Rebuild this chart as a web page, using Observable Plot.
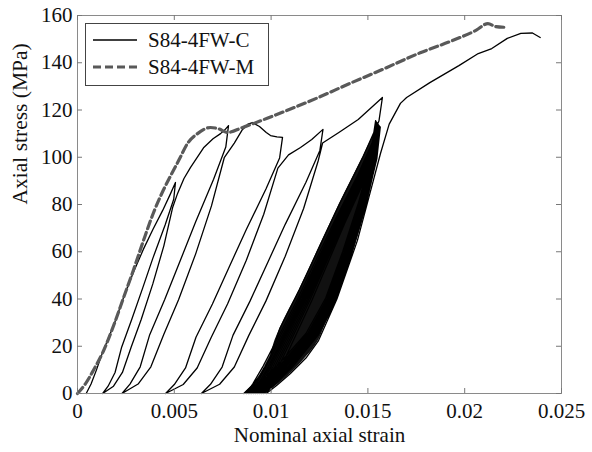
<!DOCTYPE html>
<html>
<head>
<meta charset="utf-8">
<script src="https://cdn.jsdelivr.net/npm/d3@7"></script>
<script src="https://cdn.jsdelivr.net/npm/@observablehq/plot@0.6"></script>
<style>
  html, body { margin: 0; padding: 0; background: #fff; }
  #chart svg { display: block; }
</style>
</head>
<body>
<div id="chart"></div>
<script>
// ---------- axis ticks ----------
const strainTicks = [0, 0.005, 0.01, 0.015, 0.02, 0.025];
const strainTickLabels = ["0", "0.005", "0.01", "0.015", "0.02", "0.025"];
const stressTicks = [0, 20, 40, 60, 80, 100, 120, 140, 160];

// ---------- series names ----------
const seriesNames = ["S84-4FW-C", "S84-4FW-M"];

// ---------- S84-4FW-M (monotonic) : [strain, stress MPa] ----------
const mCurve = [[0,0],[0.0004,4],[0.0008,9.5],[0.00134,18],[0.0019,29.5],[0.00238,40.6],[0.0029,52.5],[0.00341,64.8],[0.0039,76],[0.0044,85.5],[0.0048,92],[0.00525,99],[0.00568,105.8],[0.0062,110],[0.00687,112.6],[0.0073,112],[0.00775,110.5],[0.0085,112.5],[0.0098,116.5],[0.011,120.4],[0.0125,125.5],[0.014,131],[0.01565,136.8],[0.0177,144.2],[0.0194,149.5],[0.0206,153.8],[0.0212,156.6],[0.0216,155.3],[0.0221,155]];

// ---------- S84-4FW-C (cyclic) : [strain, stress MPa], in loading order ----------
const cLoad1 = [[0.00045,0],[0.0007,4],[0.00098,10],[0.0013,17.5],[0.0019,29.5],[0.00238,40.6],[0.0029,51.5],[0.0034,61],[0.0039,69.5],[0.0044,77.5],[0.0048,84.5],[0.00506,89.3]];
const cUnload1 = [[0.00497,82.2],[0.00453,71.4],[0.00389,57.2],[0.00337,44.7],[0.0028,31.3],[0.00228,19.6],[0.00194,8.9],[0.00158,3.1],[0.0013,0]];
const cLoad2 = [[0.00186,3.1],[0.00232,8.9],[0.00277,19.6],[0.00329,31.3],[0.00389,46.4],[0.00446,62.5],[0.00491,78.6],[0.00517,84.7],[0.0055,91],[0.00584,95.7],[0.00651,104],[0.007,107.8],[0.00739,110],[0.0076,111.5],[0.0078,113.4]];
const cUnload2 = [[0.00766,104.3],[0.00703,90.7],[0.0061,72.6],[0.00533,56.7],[0.0045,39.7],[0.00373,24.9],[0.00324,11.3],[0.00271,4],[0.0023,0]];
const cLoad3 = [[0.00313,4],[0.00379,11.3],[0.00445,24.9],[0.00522,39.7],[0.0061,59],[0.00692,79.4],[0.00758,99.8],[0.0081,106],[0.0085,111.5],[0.0088,114],[0.00904,114.7],[0.0094,113],[0.00975,110.5],[0.00997,109.2],[0.0103,108.6],[0.01059,108.4]];
const cUnload3 = [[0.01044,99.7],[0.00974,86.7],[0.00872,69.4],[0.00787,54.2],[0.00697,37.9],[0.00612,23.8],[0.00558,10.8],[0.005,3.8],[0.00455,0]];
const cLoad4 = [[0.00546,3.8],[0.00618,10.8],[0.00691,23.8],[0.00775,37.9],[0.00872,56.4],[0.00962,75.9],[0.01035,95.4],[0.0109,101],[0.01152,104.1],[0.0121,107.5],[0.01268,111.8]];
const cUnload4 = [[0.01252,102.9],[0.0118,89.4],[0.01073,71.6],[0.00985,55.9],[0.00891,39.1],[0.00803,24.6],[0.00747,11.2],[0.00687,3.9],[0.0064,0]];
const cLoad5 = [[0.00734,3.9],[0.0081,11.2],[0.00885,24.6],[0.00973,39.1],[0.01073,58.1],[0.01168,78.3],[0.01243,98.4],[0.01266,106],[0.0135,110.5],[0.0145,116],[0.01575,125.3]];
const cUnload5 = [[0.01557,115.3],[0.01475,100.2],[0.01353,80.2],[0.01253,62.7],[0.01146,43.9],[0.01046,27.6],[0.00982,12.5],[0.00914,4.4],[0.0086,0]];
// repeated small cycles (reload, unload pairs)
const cDense = [
  [[0.00928,4],[0.0103,11.6],[0.0118,25.4],[0.01282,40.4],[0.0137,60.1],[0.01452,80.9],[0.0152,101.6],[0.0154,115.5]],
  [[0.01523,106.3],[0.01447,92.4],[0.01333,73.9],[0.01239,57.8],[0.01139,40.4],[0.01046,25.4],[0.00959,11.6],[0.00905,4],[0.00872,0]],
  [[0.00939,4],[0.0104,11.5],[0.01188,25.3],[0.01289,40.3],[0.01376,59.8],[0.01457,80.5],[0.01524,101.2],[0.01544,115]],
  [[0.01528,105.8],[0.01451,92],[0.01339,73.6],[0.01246,57.5],[0.01147,40.3],[0.01054,25.3],[0.00968,11.5],[0.00915,4],[0.00882,0]],
  [[0.00949,4],[0.01048,11.5],[0.01195,25.2],[0.01294,40.1],[0.01381,59.6],[0.01461,80.2],[0.01527,100.8],[0.01547,114.6]],
  [[0.01531,105.4],[0.01455,91.7],[0.01344,73.3],[0.01252,57.3],[0.01153,40.1],[0.01062,25.2],[0.00976,11.5],[0.00924,4],[0.00891,0]],
  [[0.00957,4],[0.01056,11.4],[0.01201,25.1],[0.013,40],[0.01385,59.4],[0.01464,80],[0.0153,100.6],[0.0155,114.3]],
  [[0.01534,105.2],[0.01459,91.4],[0.01349,73.2],[0.01258,57.2],[0.0116,40],[0.01069,25.1],[0.00985,11.4],[0.00933,4],[0.009,0]],
  [[0.00965,4],[0.01063,11.4],[0.01206,25.1],[0.01304,39.9],[0.01389,59.3],[0.01467,79.8],[0.01532,100.3],[0.01552,114]],
  [[0.01536,104.9],[0.01462,91.2],[0.01353,73],[0.01263,57],[0.01166,39.9],[0.01076,25.1],[0.00993,11.4],[0.00941,4],[0.00909,0]],
  [[0.00974,4],[0.0107,11.4],[0.01212,25],[0.01309,39.8],[0.01393,59.2],[0.0147,79.7],[0.01535,100.1],[0.01554,113.8]],
  [[0.01538,104.7],[0.01465,91],[0.01357,72.8],[0.01268,56.9],[0.01172,39.8],[0.01083,25],[0.01001,11.4],[0.0095,4],[0.00918,0]],
  [[0.00982,4],[0.01078,11.4],[0.01218,25],[0.01314,39.8],[0.01397,59.1],[0.01473,79.5],[0.01537,100],[0.01556,113.6]],
  [[0.0154,104.5],[0.01468,90.9],[0.01361,72.7],[0.01273,56.8],[0.01179,39.8],[0.01091,25],[0.0101,11.4],[0.00959,4],[0.00928,0]],
  [[0.00991,4],[0.01086,11.3],[0.01224,24.9],[0.01319,39.7],[0.01401,59],[0.01476,79.4],[0.01539,99.8],[0.01558,113.4]],
  [[0.01543,104.3],[0.01471,90.7],[0.01366,72.6],[0.01279,56.7],[0.01186,39.7],[0.01099,24.9],[0.01019,11.3],[0.00969,4],[0.00938,0]],
  [[0.01,4],[0.01094,11.3],[0.0123,24.9],[0.01324,39.6],[0.01405,58.9],[0.01479,79.2],[0.01541,99.6],[0.0156,113.2]],
  [[0.01545,104.1],[0.01475,90.6],[0.01371,72.4],[0.01285,56.6],[0.01193,39.6],[0.01108,24.9],[0.01028,11.3],[0.0098,4],[0.00949,0]],
  [[0.0101,4],[0.01102,11.3],[0.01237,24.9],[0.01329,39.6],[0.01409,58.8],[0.01482,79.1],[0.01544,99.4],[0.01562,113]],
  [[0.01547,104],[0.01478,90.4],[0.01375,72.3],[0.01291,56.5],[0.01201,39.6],[0.01117,24.9],[0.01038,11.3],[0.0099,4],[0.0096,0]],
  [[0.0102,3.9],[0.01111,11.3],[0.01244,24.8],[0.01335,39.5],[0.01413,58.7],[0.01486,79],[0.01546,99.3],[0.01564,112.8]],
  [[0.01549,103.8],[0.01482,90.2],[0.01381,72.2],[0.01299,56.4],[0.01211,39.5],[0.01128,24.8],[0.01052,11.3],[0.01005,3.9],[0.00975,0]]
];
const cFinal = [[0.0103,3.5],[0.011,8.5],[0.0118,15],[0.01245,22.4],[0.0134,40],[0.01446,64.8],[0.01505,83],[0.01565,101.6],[0.0161,114],[0.01668,122.8],[0.017,125.3],[0.0182,131.6],[0.0197,138.8],[0.0207,143.9],[0.0214,146],[0.0222,150.3],[0.0229,152.4],[0.0235,152.6],[0.0239,150.7]];
// envelope of the densely overlapping cycles: [stress, left strain, right strain]
const cDenseBand = [[0,0.0086,0.00975],[4.4,0.00914,0.01045],[12.5,0.00982,0.01149],[22.4,0.0102,0.01245],[27.6,0.01046,0.01273],[43.9,0.01146,0.01357],[62.7,0.01253,0.01437],[80.2,0.01353,0.01496],[100.2,0.01475,0.01545],[113,0.0155,0.0156]];

// ---------- build tables ----------
const cPath = [].concat(cLoad1, cUnload1, cLoad2, cUnload2, cLoad3, cUnload3, cLoad4, cUnload4, cLoad5, cUnload5, ...cDense, cFinal)
  .map(([strain, stress]) => ({strain, stress}));
const mPath = mCurve.map(([strain, stress]) => ({strain, stress}));
const band = cDenseBand.map(([stress, lo, hi]) => ({stress, lo, hi}));

const W = 592, H = 452;
const mL = 77, mR = 31, mT = 15, mB = 59;
const innerW = W - mL - mR, innerH = H - mT - mB;
const tickLen = 5;
const serif = "'Liberation Serif', 'Times New Roman', serif";

const chart = Plot.plot({
  width: W,
  height: H,
  marginLeft: mL,
  marginRight: mR,
  marginTop: mT,
  marginBottom: mB,
  style: {fontFamily: serif, fontSize: "21px", color: "#111", background: "#fff"},
  x: {domain: [0, 0.025]},
  y: {domain: [0, 160]},
  marks: [
    Plot.areaX(band, {y: "stress", x1: "lo", x2: "hi", fill: "#111", curve: "monotone-y"}),
    Plot.line(cPath, {x: "strain", y: "stress", stroke: "#000", strokeWidth: 1.3, strokeLinejoin: "round"}),
    Plot.line(mPath, {x: "strain", y: "stress", stroke: "#595959", strokeWidth: 3.2, strokeDasharray: "8,4", curve: "monotone-x"}),
    Plot.frame({stroke: "#8a8a8a", strokeWidth: 1}),
    // inward ticks (MATLAB style)
    Plot.ruleX(strainTicks, {x: d => d, insetTop: innerH - tickLen, stroke: "#777"}),
    Plot.ruleX(strainTicks, {x: d => d, insetBottom: innerH - tickLen, stroke: "#777"}),
    Plot.ruleY(stressTicks, {y: d => d, insetRight: innerW - tickLen, stroke: "#777"}),
    Plot.ruleY(stressTicks, {y: d => d, insetLeft: innerW - tickLen, stroke: "#777"}),
    Plot.axisX({ticks: strainTicks, tickFormat: d => strainTickLabels[strainTicks.indexOf(d)], tickSize: 0, tickPadding: 10, label: null, fontSize: 21}),
    Plot.axisY({ticks: stressTicks, tickSize: 0, tickPadding: 5, label: null, fontSize: 21}),
    Plot.text(["Nominal axial strain"], {frameAnchor: "bottom", dy: 42, text: d => d, fontSize: 21, lineAnchor: "middle"}),
    Plot.text(["Axial stress (MPa)"], {frameAnchor: "left", dx: -57, rotate: -90, text: d => d, fontSize: 21.5, lineAnchor: "middle"})
  ]
});

// ---------- legend ----------
const svg = d3.select(chart);
const lg = svg.append("g").attr("font-family", serif).attr("font-size", 21).attr("text-anchor", "start");
lg.append("rect").attr("x", 85.5).attr("y", 23.5).attr("width", 183).attr("height", 62)
  .attr("fill", "#fff").attr("stroke", "#444").attr("stroke-width", 1);
lg.append("line").attr("x1", 93).attr("x2", 137).attr("y1", 40).attr("y2", 40)
  .attr("stroke", "#000").attr("stroke-width", 1.3);
lg.append("line").attr("x1", 93).attr("x2", 137).attr("y1", 67).attr("y2", 67)
  .attr("stroke", "#595959").attr("stroke-width", 3.2).attr("stroke-dasharray", "8,4");
lg.append("text").attr("x", 148).attr("y", 47).attr("fill", "#111").attr("text-anchor", "start").text(seriesNames[0]);
lg.append("text").attr("x", 148).attr("y", 74).attr("fill", "#111").attr("text-anchor", "start").text(seriesNames[1]);

document.getElementById("chart").appendChild(chart);
</script>
</body>
</html>
